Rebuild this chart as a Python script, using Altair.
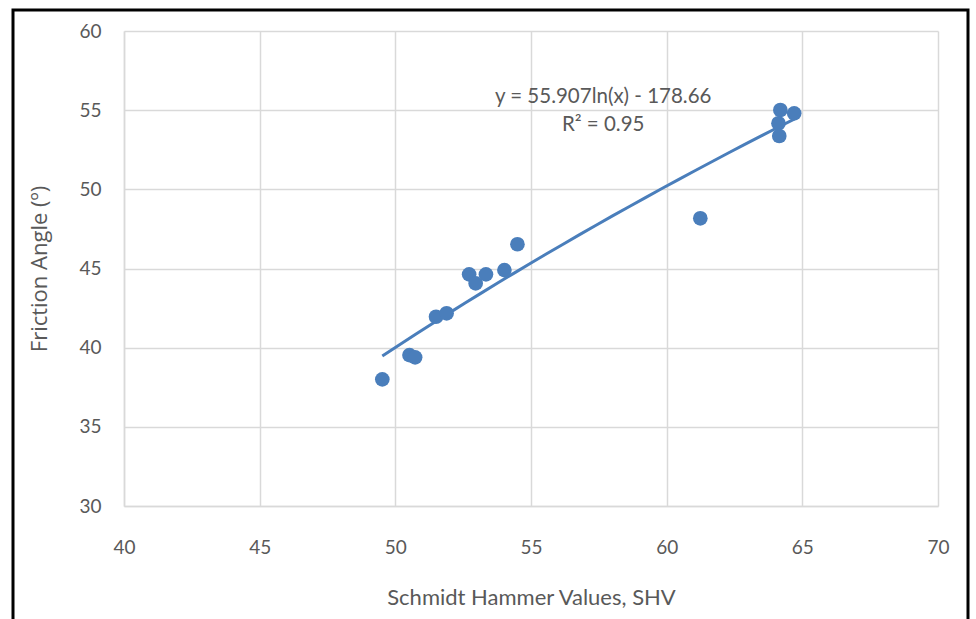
import altair as alt
import pandas as pd

# Schmidt hammer rebound values and measured friction angles
shv = [49.52, 50.52, 50.73, 51.50, 51.89, 52.72, 52.96, 53.34, 54.02, 54.50,
       61.24, 64.19, 64.12, 64.15, 64.70]
friction = [38.0, 39.53, 39.39, 41.95, 42.17, 44.63, 44.06, 44.63, 44.90, 46.53,
            48.17, 55.01, 54.17, 53.37, 54.80]

# Trendline equation annotation
eq_text = ["y = 55.907ln(x) - 178.66", "R² = 0.95"]
eq_x = [57.66, 57.66]
eq_y = [55.83, 54.06]

x_ticks = [40, 45, 50, 55, 60, 65, 70]
y_ticks = [30, 35, 40, 45, 50, 55, 60]

BLUE = "#4A7EBB"
GREY = "#595959"
GRID = "#D9D9D9"

df = pd.DataFrame({"shv": shv, "phi": friction})
eq = pd.DataFrame({"t": eq_text, "x": eq_x, "y": eq_y})

x_enc = alt.X(
    "shv:Q",
    scale=alt.Scale(domain=[40, 70], nice=False, zero=False),
    axis=alt.Axis(values=x_ticks, title="Schmidt Hammer Values, SHV",
                  labelPadding=32, titlePadding=30, labelFlush=False),
)
y_enc = alt.Y(
    "phi:Q",
    scale=alt.Scale(domain=[30, 60], nice=False, zero=False),
    axis=alt.Axis(values=y_ticks, title="Friction Angle (º)",
                  labelPadding=23, titlePadding=27, labelFlush=False),
)

# Outer frame around the whole figure
frame = alt.Chart(pd.DataFrame({"k": [0]})).mark_rect(
    fill=None, stroke="black", strokeWidth=3, clip=False
).encode(
    x=alt.value(-111), x2=alt.value(844),
    y=alt.value(-21), y2=alt.value(640),
)

points = alt.Chart(df).mark_circle(size=215, opacity=1, color=BLUE).encode(
    x=x_enc, y=y_enc
)

trend = alt.Chart(df).transform_regression(
    "shv", "phi", method="log"
).mark_line(color=BLUE, strokeWidth=3).encode(
    x="shv:Q", y="phi:Q"
)

labels = alt.Chart(eq).mark_text(
    fontSize=20.5, color=GREY, font="Lato", align="center", baseline="middle"
).encode(
    x=alt.X("x:Q"), y=alt.Y("y:Q"), text="t:N"
)

chart = alt.layer(frame, trend, points, labels).properties(
    width=814, height=475,
    padding={"left": 124, "top": 31, "right": 38, "bottom": 113},
    autosize=alt.AutoSizeParams(type="none"),
).configure_view(
    stroke=None
).configure_axis(
    grid=True, gridColor=GRID, gridWidth=1.5,
    domainColor=GRID, domainWidth=1.5,
    ticks=False,
    labelFont="Lato", labelFontSize=19, labelColor=GREY,
    titleFont="Lato", titleFontSize=22, titleColor=GREY, titleFontWeight="normal",
).configure_axisY(
    titleFont="Open Sans", titleFontSize=22
)

chart.save("out.html", embed_options={"renderer": "svg", "actions": False})
